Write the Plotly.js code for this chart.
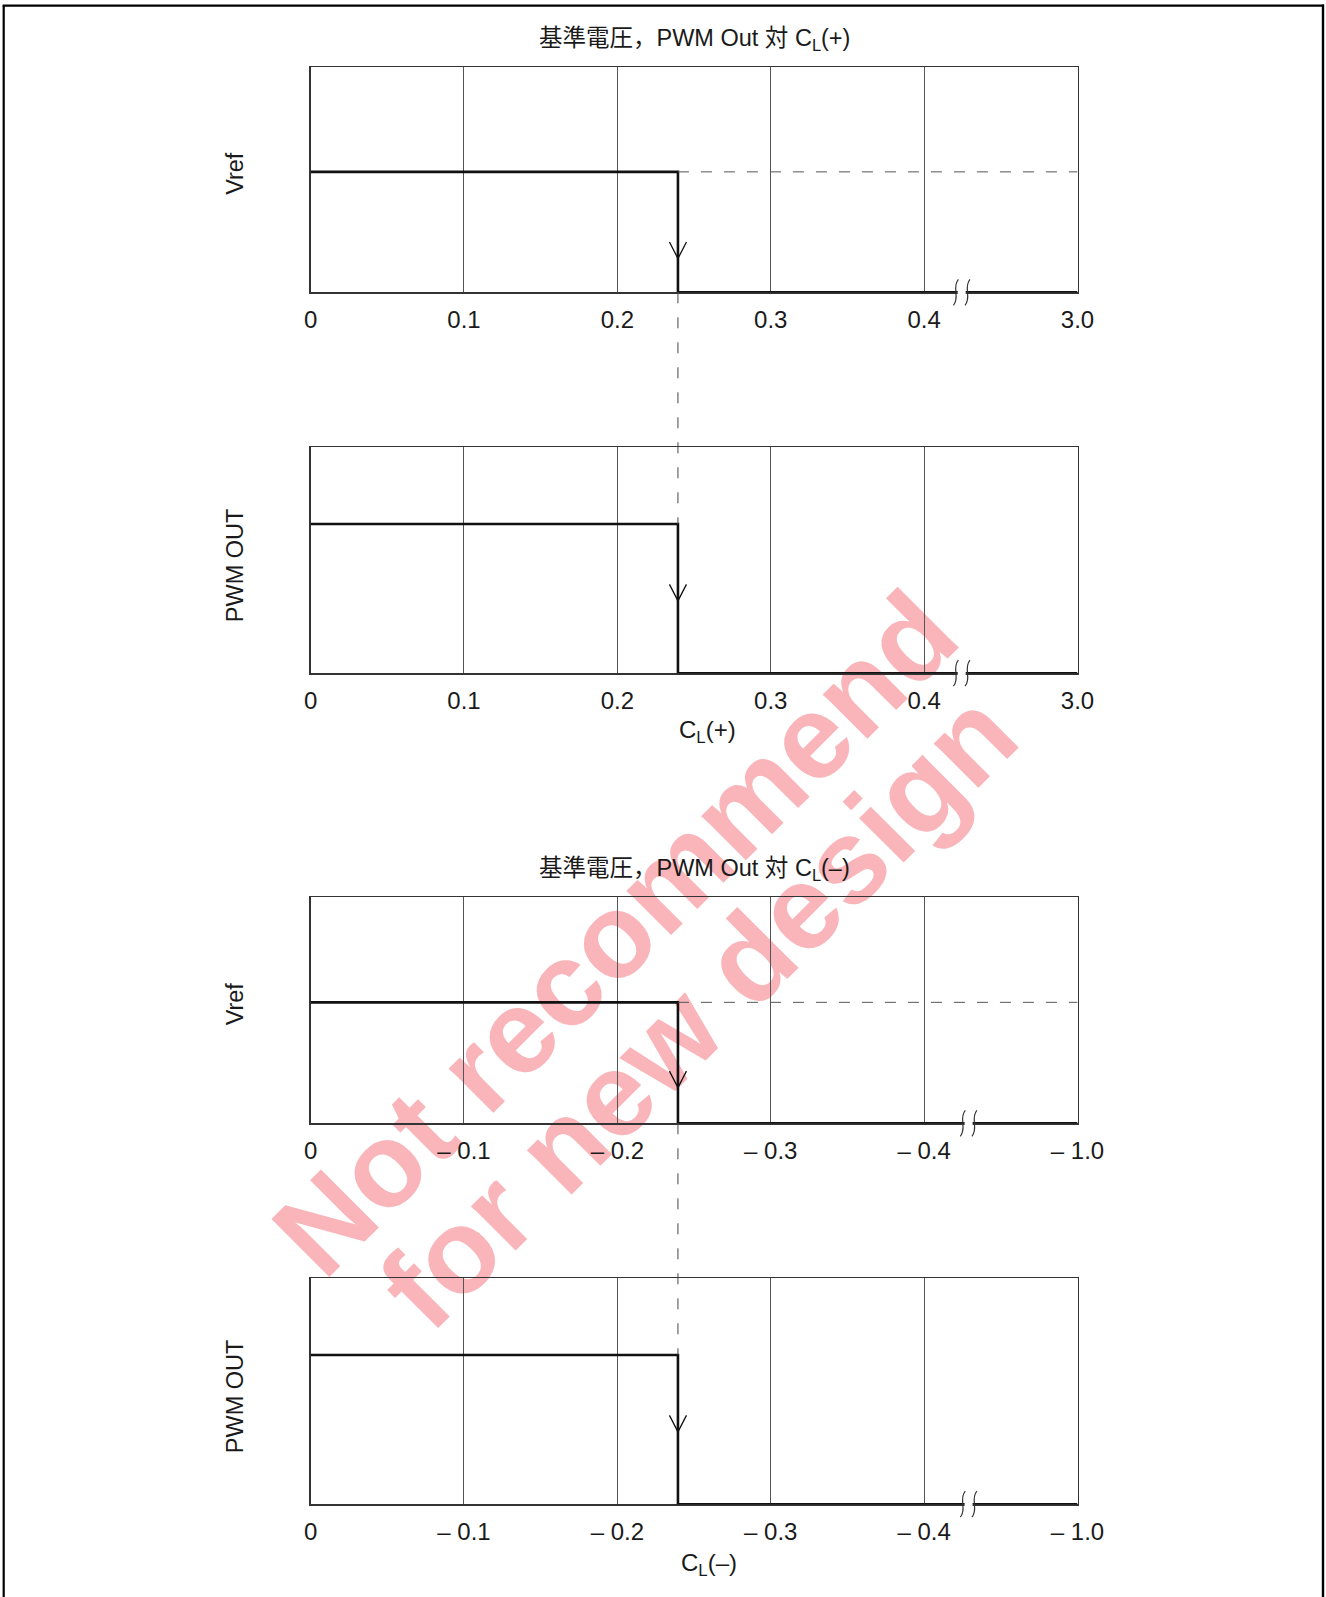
<!DOCTYPE html>
<html><head><meta charset="utf-8">
<script src="https://cdn.plot.ly/plotly-3.0.1.min.js"></script>
<style>html,body{margin:0;padding:0;background:#fff}#chart{width:1326px;height:1597px}</style>
</head><body><div id="chart"></div>
<script>
// ---------------- data ----------------
const clPlusStepX  = [0, 0.2395, 0.2395, 0.5];
const vrefPlusY    = [0.535, 0.535, 0, 0];
const pwmPlusY     = [0.66, 0.66, 0, 0];
const clMinusStepX = [0, 0.2395, 0.2395, 0.5];
const vrefMinusY   = [0.535, 0.535, 0, 0];
const pwmMinusY    = [0.66, 0.66, 0, 0];
const arrowTipY    = [0.15, 0.32, 0.158, 0.32];
const tickVals     = [0, 0.1, 0.2, 0.3, 0.4, 0.5];
const plusTickText = ['0', '0.1', '0.2', '0.3', '0.4', '3.0'];
const minusTickText= ['0', '– 0.1', '– 0.2', '– 0.3', '– 0.4', '– 1.0'];
const breakX       = [0.4245, 0.4245, 0.429, 0.429];
const panelYLabels = ['Vref', 'PWM OUT', 'Vref', 'PWM OUT'];
const chartTitles  = ['基準電圧，PWM Out 対 C<sub>L</sub>(+)', '基準電圧，PWM Out 対 C<sub>L</sub>(–)'];
const xTitles      = ['C<sub>L</sub>(+)', 'C<sub>L</sub>(–)'];
const watermark    = ['Not recommend', 'for new design'];

// ---------------- layout geometry ----------------
const W = 1326, H = 1597;
const FONT = 'Liberation Sans, Arial, "Noto Sans CJK JP", sans-serif';
const TXT = '#1a1a1a';
const plotL = 310.6, plotR = 1077.5;
const panelPx = [[67.2, 292.3], [447.1, 673.2], [897.2, 1123.3], [1278.1, 1504.2]];
const xDom = [plotL / W, plotR / W];
const yDoms = panelPx.map(p => [1 - p[1] / H, 1 - p[0] / H]);
const XMAX = 0.5;
const pxPerX = (plotR - plotL) / XMAX;

const panels = [
  {x: clPlusStepX, y: vrefPlusY, ticks: plusTickText},
  {x: clPlusStepX, y: pwmPlusY, ticks: plusTickText},
  {x: clMinusStepX, y: vrefMinusY, ticks: minusTickText},
  {x: clMinusStepX, y: pwmMinusY, ticks: minusTickText}
];

const traces = [];
const layout = {
  width: W, height: H,
  margin: {l: 0, r: 0, t: 0, b: 0},
  paper_bgcolor: '#ffffff',
  plot_bgcolor: 'rgba(0,0,0,0)',
  showlegend: false,
  font: {family: FONT, color: TXT},
  shapes: [],
  annotations: []
};

// watermark first (behind the chart lines)
const wmCenters = [[607 / W, 1 - 925 / H], [690 / W, 1 - 1002 / H]];
watermark.forEach((t, k) => {
  const [cx, cy] = wmCenters[k];
  layout.shapes.push({
    type: 'rect', xref: 'paper', yref: 'paper', layer: 'below',
    x0: cx - 0.005, x1: cx + 0.005, y0: cy - 0.005, y1: cy + 0.005,
    line: {width: 0}, fillcolor: 'rgba(0,0,0,0)',
    label: {text: '<b>' + t + '</b>', textangle: -45, textposition: 'middle center',
            font: {family: 'Liberation Sans, Arial, sans-serif', size: 119, color: '#f9b5b9', weight: 'bold'}}
  });
});

panels.forEach((p, i) => {
  const s = i === 0 ? '' : String(i + 1);
  const xa = 'x' + s, ya = 'y' + s;
  const panelH = panelPx[i][1] - panelPx[i][0];
  layout['xaxis' + s] = {
    domain: xDom, anchor: ya, range: [0, XMAX],
    tickmode: 'array', tickvals: tickVals, ticktext: p.ticks,
    showgrid: true, gridcolor: '#555', gridwidth: 1,
    showline: true, mirror: true, linecolor: '#333', linewidth: 1.3,
    ticks: '', zeroline: false, layer: 'below traces',
    ticklabelstandoff: 6,
    tickfont: {family: FONT, size: 24, color: TXT},
    fixedrange: true
  };
  layout['yaxis' + s] = {
    domain: yDoms[i], anchor: xa, range: [0, 1],
    showticklabels: false, showgrid: false, zeroline: false,
    showline: true, mirror: true, linecolor: '#333', linewidth: 1.3,
    ticks: '', layer: 'below traces', fixedrange: true
  };
  // step line
  traces.push({
    type: 'scatter', mode: 'lines', x: p.x, y: p.y, xaxis: xa, yaxis: ya,
    line: {color: '#111', width: 2.6, shape: 'linear'}, cliponaxis: false, hoverinfo: 'skip'
  });
  // open arrow head on the falling edge
  const sx = p.x[1];
  const dx = 8.5 / pxPerX, dy = 16.5 / panelH;
  traces.push({
    type: 'scatter', mode: 'lines',
    x: [sx - dx, sx, sx + dx], y: [arrowTipY[i] + dy, arrowTipY[i], arrowTipY[i] + dy],
    xaxis: xa, yaxis: ya, line: {color: '#111', width: 1.3}, cliponaxis: false, hoverinfo: 'skip'
  });
  // dashed reference level in Vref panels
  if (i === 0 || i === 2) {
    traces.push({
      type: 'scatter', mode: 'lines', x: [sx, XMAX], y: [p.y[0], p.y[0]],
      xaxis: xa, yaxis: ya, line: {color: '#555', width: 1, dash: '11px,12px'}, hoverinfo: 'skip'
    });
  }
  // axis break mark
  const yAx = yDoms[i][0];
  const bx = breakX[i];
  const X = off => bx + off / pxPerX;
  const Y = off => yAx + off / H;
  layout.shapes.push({
    type: 'rect', xref: xa, yref: 'paper', x0: X(-4), x1: X(4), y0: Y(-4), y1: Y(4),
    fillcolor: '#ffffff', line: {width: 0}, layer: 'above'
  });
  [-5.8, 5.8].forEach(c => {
    layout.shapes.push({
      type: 'path', xref: xa, yref: 'paper', layer: 'above',
      path: `M ${X(c + 2.5)},${Y(13)} C ${X(c - 4.5)},${Y(5)} ${X(c + 4.5)},${Y(-5)} ${X(c - 2.5)},${Y(-13)}`,
      line: {color: '#333', width: 1.2}
    });
  });
  // y axis title
  const yc = i % 2 === 0 ? (yDoms[i][0] + p.y[0] * (yDoms[i][1] - yDoms[i][0]) - 2 / H) : (yDoms[i][0] + yDoms[i][1]) / 2 - 5 / H;
  layout.annotations.push({
    text: panelYLabels[i], xref: 'paper', yref: 'paper', x: 235 / W, y: yc,
    showarrow: false, textangle: -90, xanchor: 'center', yanchor: 'middle',
    font: {family: FONT, size: 23.5, color: TXT}
  });
});

// vertical dashed connectors between the Vref and PWM panels
[[0, 1, clPlusStepX, pwmPlusY], [2, 3, clMinusStepX, pwmMinusY]].forEach(([a, b, xs, ys]) => {
  const xa = a === 0 ? 'x' : 'x' + (a + 1);
  layout.shapes.push({
    type: 'line', xref: xa, yref: 'paper', x0: xs[1], x1: xs[1],
    y0: yDoms[a][0], y1: yDoms[b][0] + ys[0] * (yDoms[b][1] - yDoms[b][0]),
    line: {color: '#444', width: 1, dash: '11px,14px'}, layer: 'above'
  });
});

// chart titles and x titles
const centerX = (xDom[0] + xDom[1]) / 2;
layout.annotations.push(
  {text: chartTitles[0], xref: 'paper', yref: 'paper', x: centerX, y: 1 - 39.5 / H, showarrow: false,
   xanchor: 'center', yanchor: 'middle', font: {family: FONT, size: 23.5, color: TXT}},
  {text: chartTitles[1], xref: 'paper', yref: 'paper', x: centerX, y: 1 - 869.5 / H, showarrow: false,
   xanchor: 'center', yanchor: 'middle', font: {family: FONT, size: 23.5, color: TXT}},
  {text: xTitles[0], xref: 'paper', yref: 'paper', x: 707 / W, y: 1 - 731.5 / H, showarrow: false,
   xanchor: 'center', yanchor: 'middle', font: {family: FONT, size: 24, color: TXT}},
  {text: xTitles[1], xref: 'paper', yref: 'paper', x: 709 / W, y: 1 - 1564.5 / H, showarrow: false,
   xanchor: 'center', yanchor: 'middle', font: {family: FONT, size: 24, color: TXT}}
);

// page frame
layout.shapes.push(
  {type: 'line', xref: 'paper', yref: 'paper', x0: 3.7 / W, x1: 3.7 / W, y0: 0, y1: 1 - 5.7 / H, line: {color: '#000', width: 2.2}},
  {type: 'line', xref: 'paper', yref: 'paper', x0: 2.6 / W, x1: 1324 / W, y0: 1 - 5.7 / H, y1: 1 - 5.7 / H, line: {color: '#000', width: 2.2}},
  {type: 'line', xref: 'paper', yref: 'paper', x0: 1323 / W, x1: 1323 / W, y0: 0, y1: 1 - 4.6 / H, line: {color: '#000', width: 2.4}}
);

Plotly.newPlot('chart', traces, layout, {staticPlot: true, displayModeBar: false});
</script>
</body></html>
